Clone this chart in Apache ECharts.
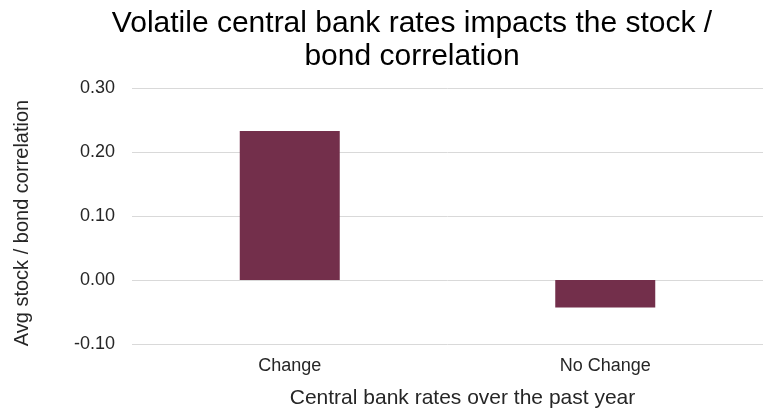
<!DOCTYPE html>
<html><head><meta charset="utf-8">
<script src="https://cdn.jsdelivr.net/npm/echarts@6/dist/echarts.min.js"></script>
<style>html,body{margin:0;padding:0;background:#fff}#c{width:763px;height:414px}</style>
</head><body><div id="c"></div>
<script>
var categories = ["Change", "No Change"];
var values = [0.233, -0.043];
var yTicks = [-0.10, 0.00, 0.10, 0.20, 0.30];
var titleText = "Volatile central bank rates impacts the stock /\nbond correlation";
var xName = "Central bank rates over the past year";
var yName = "Avg stock / bond correlation";

var chart = echarts.init(document.getElementById('c'));
chart.setOption({
  animation: false,
  textStyle: {fontFamily: 'Liberation Sans, Arial, sans-serif'},
  title: {
    text: titleText, left: 412, top: 7, padding: 0, textAlign: 'center',
    textStyle: {fontSize: 30, fontWeight: 'normal', color: '#000', lineHeight: 33, fontFamily: 'Liberation Sans'}
  },
  grid: {left: 132, right: -9, top: 88, bottom: 64, containLabel: false},
  xAxis: {
    type: 'category', data: categories,
    axisLine: {show: false, onZero: false}, axisTick: {show: false},
    axisLabel: {fontSize: 18, color: '#262626', margin: 13},
    name: xName, nameLocation: 'middle', nameGap: 44,
    nameTextStyle: {fontSize: 21, color: '#262626', padding: [0, 0, 0, 30]}
  },
  yAxis: {
    type: 'value', min: yTicks[0], max: yTicks[yTicks.length - 1], interval: 0.1,
    axisLabel: {fontSize: 18, color: '#262626', margin: 17, formatter: function (v) { return v.toFixed(2); }},
    splitLine: {lineStyle: {color: '#d9d9d9', width: 1}},
    axisLine: {show: false}, axisTick: {show: false},
    name: yName, nameLocation: 'middle', nameGap: 100, nameRotate: 90,
    nameTextStyle: {fontSize: 20, color: '#262626', padding: [0, 14, 0, 0]}
  },
  series: [{
    type: 'bar', data: values, barWidth: 100,
    itemStyle: {color: '#732f4b'}
  }]
});
</script></body></html>
